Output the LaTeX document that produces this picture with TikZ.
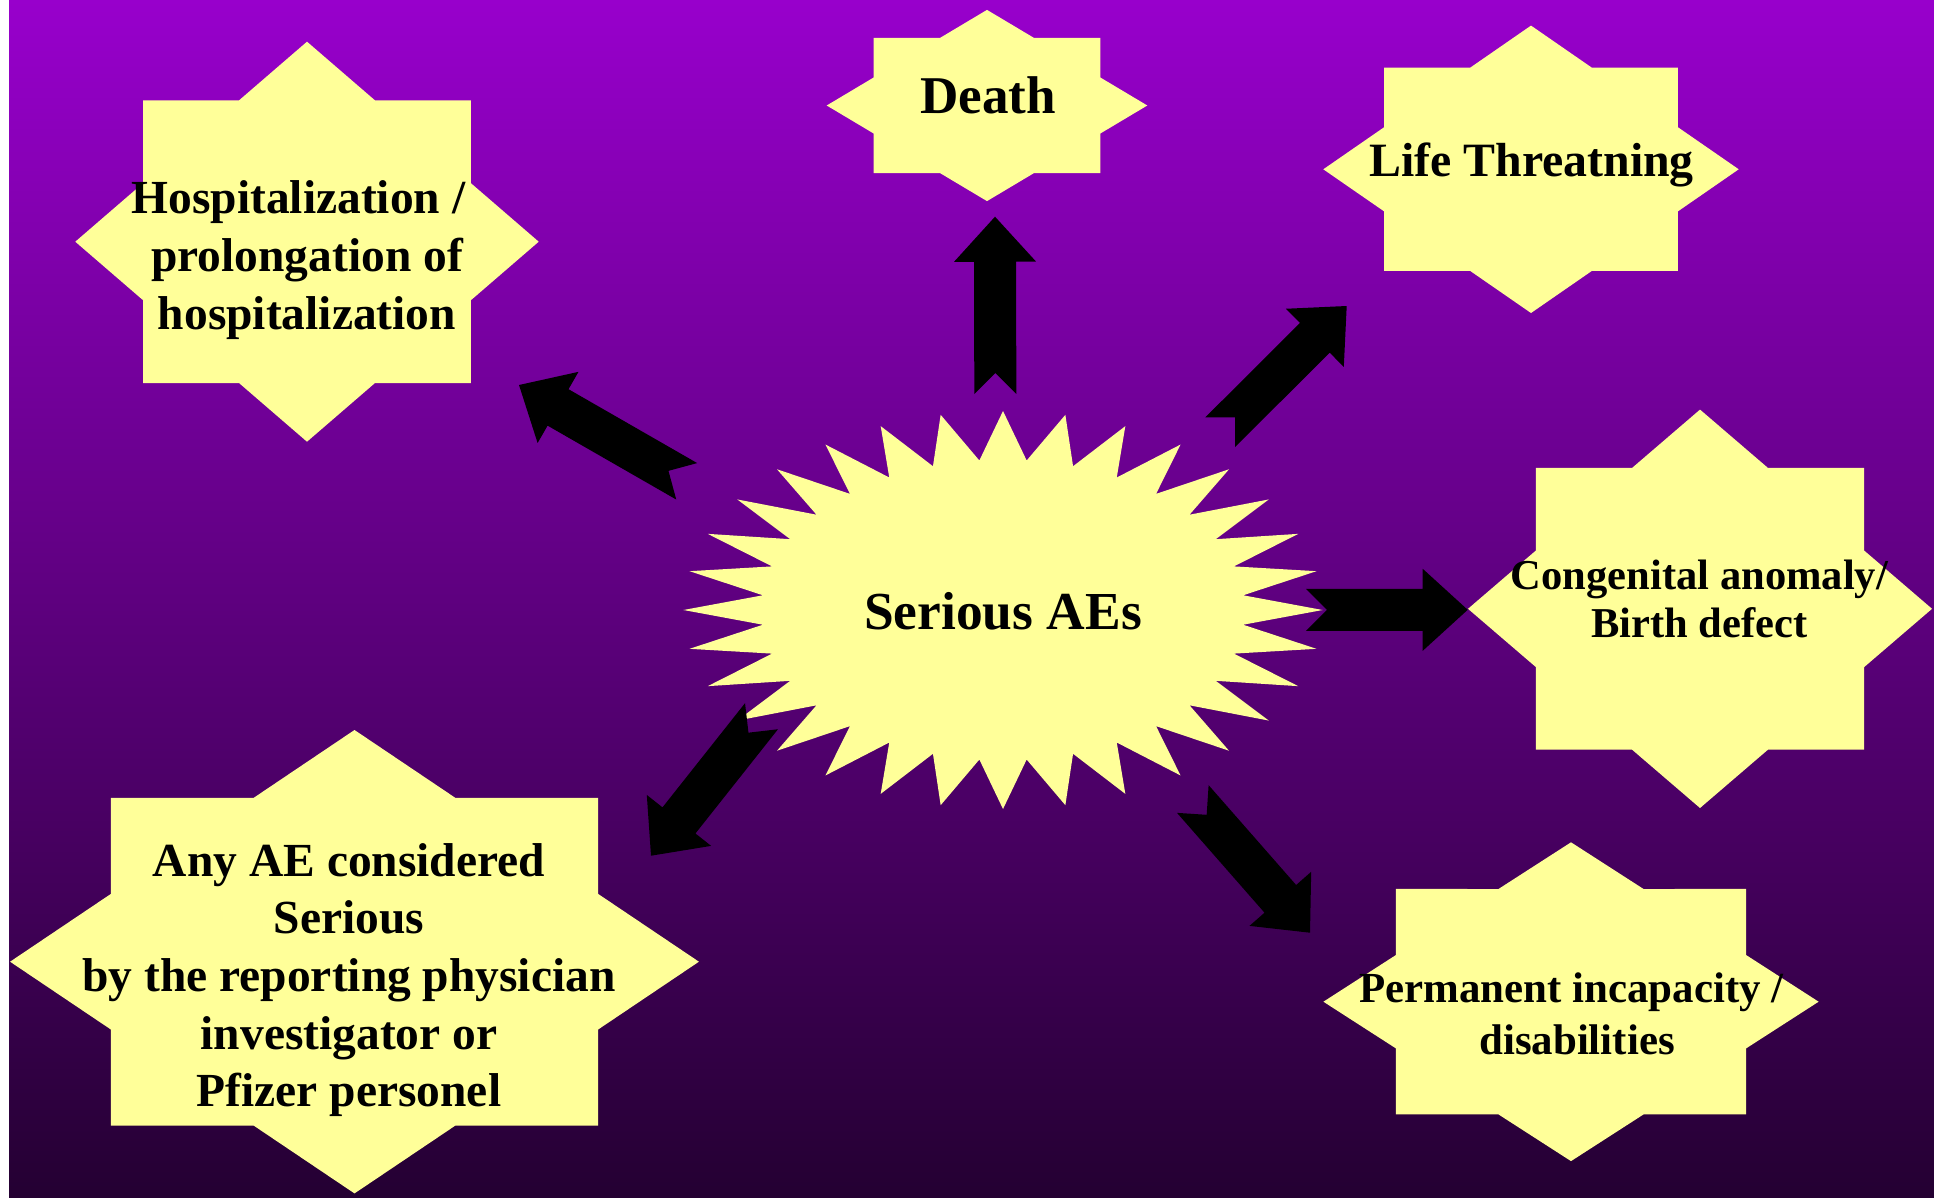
\documentclass[tikz,border=0pt]{standalone}
\usepackage{fontspec}
\setmainfont{Liberation Serif}
\usetikzlibrary{calc}

\definecolor{bgtop}{RGB}{152,0,204}
\definecolor{bgmid}{RGB}{112,0,146}
\definecolor{bgbot}{RGB}{36,0,50}
\definecolor{starcol}{RGB}{255,255,153}

% 星形: 中心 x, 中心 y, 半径 a, 半径 b, 頂点数, 内側の比
\newcommand{\starpoly}[6]{%
  \fill[starfill] plot[samples at={1,...,#5}, variable=\k]
    ({#1+#3*ifthenelse(isodd(\k),#6,1)*cos(\k*(360/#5))},
     {#2+#4*ifthenelse(isodd(\k),#6,1)*sin(\k*(360/#5))}) -- cycle;
}

% 切り込み付きの矢印: 根元 -> 先端
\newcommand{\notcharrow}[2]{%
  \coordinate (hb) at ($(#2)!0.45cm!(#1)$);
  \fill[arrowblk] ($(#1)!0.21cm!90:(#2)$) -- ($(#1)!0.21cm!(#2)$)
    -- ($(#1)!0.21cm!-90:(#2)$) -- ($(hb)!0.21cm!-90:(#2)$)
    -- ($(hb)!0.41cm!-90:(#2)$) -- (#2)
    -- ($(hb)!0.41cm!90:(#2)$) -- ($(hb)!0.21cm!90:(#2)$) -- cycle;
}

\begin{document}
\begin{tikzpicture}[x=0.01cm, y=-0.01cm,
  starfill/.style={fill=starcol},
  arrowblk/.style={fill=black},
  txt/.style={inner sep=0pt, align=center, text=black}]
  \useasboundingbox (0,0) rectangle (1934,1197);

  % 背景
  \fill[white] (0,0) rectangle (1934,1197);
  \shade[top color=bgtop, middle color=bgmid, bottom color=bgbot]
    (9,0) rectangle (1934,1197);

  % 中央の星
  \starpoly{1003}{610}{319.6}{199}{64}{0.755}
  \node[txt, anchor=base, font=\bfseries\fontsize{15.2}{18}\selectfont]
    (serious) at (1003,629.3) {Serious AEs};

  % 周りの星
  \starpoly{307}{241.7}{231.7}{200}{16}{0.7654}
  \node[txt, font=\bfseries\fontsize{13.5}{16.5}\selectfont]
    (hosp) at (307,260.3) {Hospitalization /\hspace*{0.36em}\\prolongation of\\hospitalization};

  \starpoly{987}{105.5}{160.3}{95.6}{16}{0.7654}
  \node[txt, anchor=base, font=\bfseries\fontsize{15.1}{18}\selectfont]
    (death) at (988,113.5) {Death};

  \starpoly{1531}{169.3}{207.7}{143.7}{16}{0.7654}
  \node[txt, anchor=base, font=\bfseries\fontsize{13.6}{16.5}\selectfont]
    (life) at (1531.5,176.7) {Life Threatning};

  \starpoly{1700}{608.8}{232}{199.2}{16}{0.7654}
  \node[txt, font=\bfseries\fontsize{12.1}{13.7}\selectfont]
    (congenital) at (1699.5,599) {Congenital anomaly/\\Birth defect};

  \starpoly{1571}{1001.7}{247.6}{159.4}{16}{0.7654}
  \node[txt, font=\bfseries\fontsize{12.2}{14.7}\selectfont]
    (permanent) at (1577,1013.7) {Permanent incapacity /\hspace*{0.26em}\\disabilities};

  \starpoly{354.5}{961.7}{344.4}{231.7}{16}{0.7654}
  \node[txt, font=\bfseries\fontsize{13.5}{16.4}\selectfont]
    (anyae) at (349,980) {Any AE considered\\Serious\\by the reporting physician\\investigator or\\Pfizer personel};

  % 矢印の端
  \coordinate (deathT) at (995.3,394);   \coordinate (deathH) at (995,216.7);
  \coordinate (lifeT) at (1220.2,432.2); \coordinate (lifeH) at (1346.7,306);
  \coordinate (congT) at (1306,609.8);   \coordinate (congH) at (1467.7,609.8);
  \coordinate (permT) at (1192.8,799);   \coordinate (permH) at (1310,932.7);
  \coordinate (anyT) at (761.5,716.2);   \coordinate (anyH) at (651,855.7);
  \coordinate (hospT) at (686.7,481.3);  \coordinate (hospH) at (519,385);

  % 矢印
  \notcharrow{deathT}{deathH}
  \notcharrow{lifeT}{lifeH}
  \notcharrow{congT}{congH}
  \notcharrow{permT}{permH}
  \notcharrow{anyT}{anyH}
  \notcharrow{hospT}{hospH}
\end{tikzpicture}
\end{document}
